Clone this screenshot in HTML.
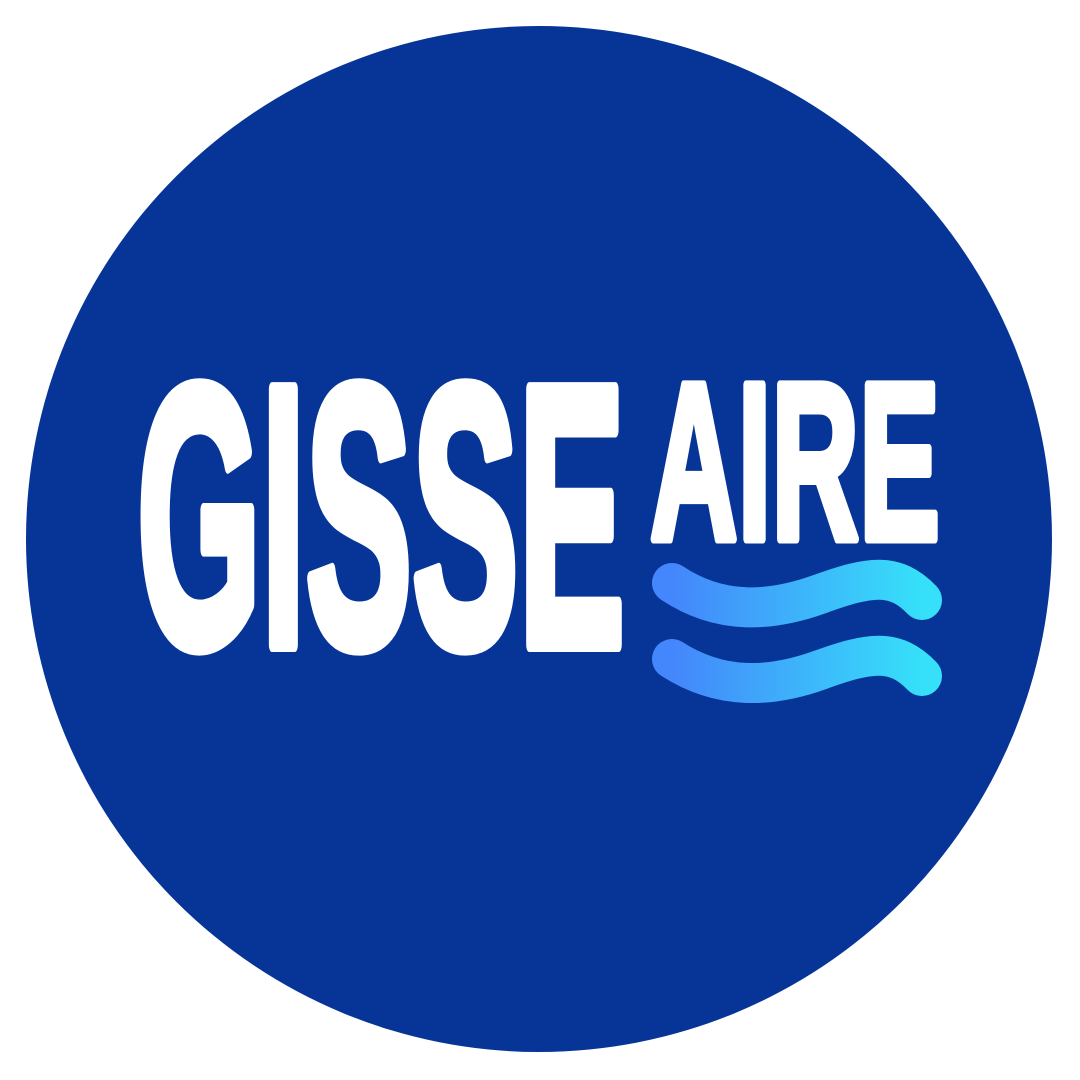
<!DOCTYPE html>
<html>
<head>
<meta charset="utf-8">
<style>
  html,body{margin:0;padding:0;background:#fff;}
  svg{display:block;}
</style>
</head>
<body>
<svg width="1080" height="1080" viewBox="0 0 1080 1080">
  <defs>
    <linearGradient id="wg" x1="0" y1="0" x2="1" y2="0">
      <stop offset="0" stop-color="#4486fb"/>
      <stop offset="1" stop-color="#36e0f9"/>
    </linearGradient>
  </defs>
  <circle cx="539" cy="539" r="513" fill="#073597"/>
  <text x="137" y="645" font-family="Liberation Sans, sans-serif" font-weight="bold" font-size="372" fill="#fff" stroke="#fff" stroke-width="14" stroke-linejoin="round" textLength="488" lengthAdjust="spacingAndGlyphs">GISSE</text>
  <text x="650" y="539" font-family="Liberation Sans, sans-serif" font-weight="bold" font-size="224" fill="#fff" stroke="#fff" stroke-width="9" stroke-linejoin="round" textLength="290" lengthAdjust="spacingAndGlyphs">AIRE</text>
  <path d="M672,583 C720,615 770,612 820,594 C870,576 895,572 922,600" fill="none" stroke="url(#wg)" stroke-width="40" stroke-linecap="round"/>
  <path d="M672,659 C720,690 770,688 820,670 C870,652 895,648 922,676" fill="none" stroke="url(#wg)" stroke-width="40" stroke-linecap="round"/>
</svg>
</body>
</html>
